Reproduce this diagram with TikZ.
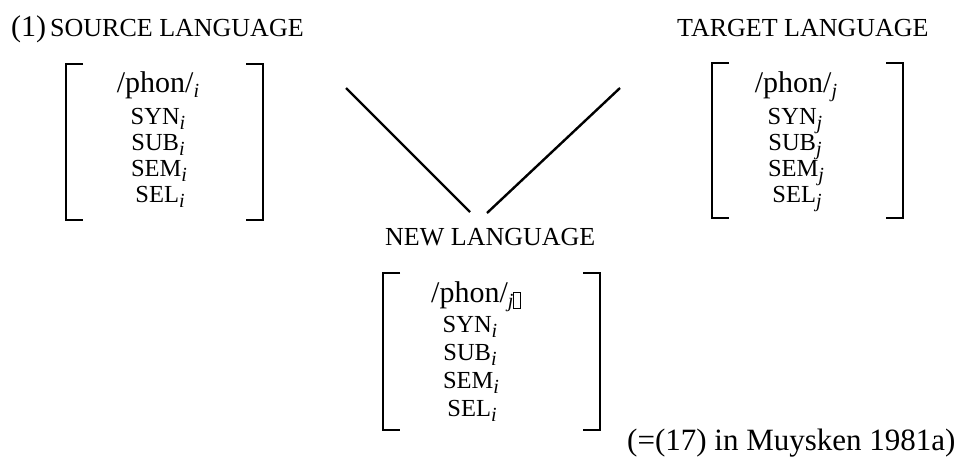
\documentclass[tikz,border=0pt]{standalone}
\usepackage{fontspec}
\setmainfont{Liberation Serif}
% lowered italic index after a feature name
\newcommand\idx[1]{\raisebox{-5.5pt}{\fontsize{20}{20}\selectfont\itshape #1}}
% empty box left by a glyph the font does not have
\newcommand\blankglyph{\raisebox{-5.5pt}{\setlength\fboxsep{0pt}\setlength\fboxrule{0.7pt}\fbox{\rule{0pt}{15pt}\hspace{6pt}}}}
\tikzset{
  title/.style={anchor=base west, inner sep=0pt, font=\fontsize{26}{26}\selectfont},
  phonrow/.style={anchor=base, inner sep=0pt, font=\fontsize{30}{30}\selectfont},
  featrow/.style={anchor=base, inner sep=0pt, font=\fontsize{24.5}{24.5}\selectfont},
  bracket/.style={line width=2.4pt, line join=miter},
  link/.style={line width=2.4pt},
}
% square brackets round a feature matrix: left x, right x, top y, bottom y
\newcommand\matrixbrackets[4]{%
  \draw[bracket] (#1+17,#3) -- (#1,#3) -- (#1,#4) -- (#1+17,#4);
  \draw[bracket] (#2-17,#3) -- (#2,#3) -- (#2,#4) -- (#2-17,#4);}
\begin{document}
\begin{tikzpicture}[x=1pt, y=-1pt]
\useasboundingbox (0,0) rectangle (967,459);

% headings
\node[anchor=base west, inner sep=0pt, font=\fontsize{30}{30}\selectfont] (exnum) at (11,36) {(1)};
\node[title] (srctitle) at (50,36) {SOURCE LANGUAGE};
\node[title] (tgttitle) at (677,36) {TARGET LANGUAGE};
\node[title] (newtitle) at (385,245) {NEW LANGUAGE};

% source language entry
\matrixbrackets{66}{263}{64}{220}
\node[phonrow] (srcphon) at (158,92) {/phon/\idx{i}};
\node[featrow] (srcsyn) at (158,124) {SYN\idx{i}};
\node[featrow] (srcsub) at (158,150) {SUB\idx{i}};
\node[featrow] (srcsem) at (159,176) {SEM\idx{i}};
\node[featrow] (srcsel) at (160,202) {SEL\idx{i}};

% target language entry
\matrixbrackets{712}{903}{63}{218}
\node[phonrow] (tgtphon) at (796,92) {/phon/\idx{j}};
\node[featrow] (tgtsyn) at (795,124) {SYN\idx{j}};
\node[featrow] (tgtsub) at (795,150) {SUB\idx{j}};
\node[featrow] (tgtsem) at (796,176) {SEM\idx{j}};
\node[featrow] (tgtsel) at (797,202) {SEL\idx{j}};

% new language entry
\matrixbrackets{383}{600}{273}{430}
\node[phonrow] (newphon) at (476,302) {/phon/\idx{j}\blankglyph};
\node[featrow] (newsyn) at (470,332) {SYN\idx{i}};
\node[featrow] (newsub) at (470,360) {SUB\idx{i}};
\node[featrow] (newsem) at (471,388) {SEM\idx{i}};
\node[featrow] (newsel) at (472,416) {SEL\idx{i}};

% the two source lines meeting above the new entry
\coordinate (srcfoot) at (346,88);
\coordinate (tgtfoot) at (620,88);
\coordinate (apexl) at (470,212);
\coordinate (apexr) at (487,213);
\draw[link] (srcfoot) -- (apexl);
\draw[link] (tgtfoot) -- (apexr);

% source reference
\node[anchor=base west, inner sep=0pt, font=\fontsize{31}{31}\selectfont] (cite) at (627,450) {(=(17) in Muysken 1981a)};
\end{tikzpicture}
\end{document}
